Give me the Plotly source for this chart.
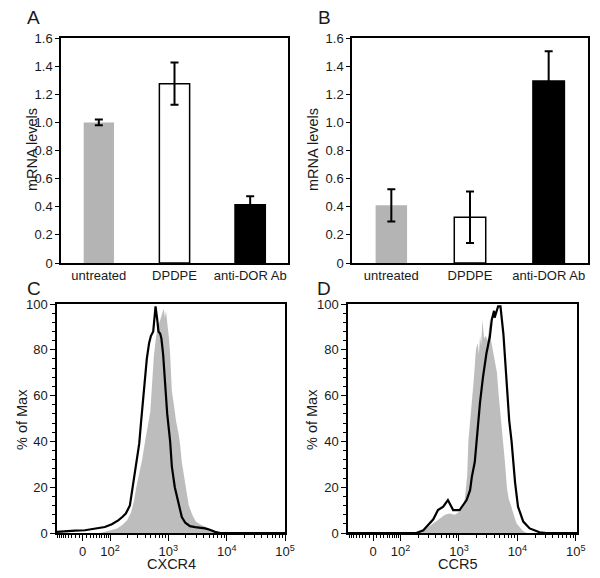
import math
import plotly.graph_objects as go

# ---------------- data ----------------
categories = ["untreated", "DPDPE", "anti-DOR Ab"]
bar_colors = ["#b4b4b4", "#ffffff", "#000000"]

a_values = [1.0, 1.275, 0.415]
a_errors = [0.02, 0.15, 0.06]

b_values = [0.41, 0.325, 1.295]
b_errors = [0.115, 0.183, 0.21]

bar_yticks = [0, 0.2, 0.4, 0.6, 0.8, 1.0, 1.2, 1.4, 1.6]
bar_yticktext = ["0", "0.2", "0.4", "0.6", "0.8", "1.0", "1.2", "1.4", "1.6"]

# flow histograms: x in biexponential display units (decades; 0 shown at ~1.53)
c_gray_x = [1.83, 2.00, 2.12, 2.21, 2.29, 2.36, 2.41, 2.45, 2.50, 2.55, 2.60, 2.65, 2.69,
            2.72, 2.75, 2.79, 2.82, 2.86, 2.89, 2.92, 2.94, 2.96, 2.98, 2.99, 3.01, 3.03,
            3.06, 3.10, 3.13, 3.17, 3.20, 3.23, 3.27, 3.30, 3.35, 3.41, 3.47, 3.54, 3.63,
            3.71, 3.80, 3.92]
c_gray_y = [0, 1, 2, 3.5, 5.5, 9, 14, 20, 26, 32, 40, 48, 53,
            65, 77, 86, 90, 93, 96, 98, 94, 97, 92, 88, 85, 78,
            62, 55, 49, 44, 39, 31, 24, 19, 12, 8, 5, 3.8, 2.8,
            1.8, 0.8, 0]

c_black_x = [1.09, 1.23, 1.40, 1.57, 1.74, 1.91, 2.03, 2.14, 2.21, 2.27, 2.34, 2.39, 2.45,
             2.50, 2.53, 2.57, 2.60, 2.63, 2.67, 2.70, 2.74, 2.76, 2.78, 2.81, 2.83, 2.86,
             2.88, 2.91, 2.94, 2.98, 3.03, 3.06, 3.11, 3.15, 3.20, 3.23, 3.29, 3.37, 3.46,
             3.54, 3.63, 3.71, 3.80, 3.89, 5.00]
c_black_y = [0.5, 0.8, 1, 1.2, 1.8, 2.6, 3.8, 5.5, 7, 8.5, 12, 20, 29,
             39, 48, 60, 68, 76, 83, 86, 88, 94, 99, 93, 88, 87,
             85, 78, 66, 52, 40, 29, 20, 16, 10, 7, 4.5, 3, 2.6,
             2.4, 2, 1.4, 0.5, 0, 0]

d_gray_x = [2.25, 2.33, 2.42, 2.50, 2.59, 2.67, 2.76, 2.84, 2.93, 3.02, 3.07, 3.10, 3.14,
            3.16, 3.19, 3.22, 3.25, 3.29, 3.32, 3.34, 3.36, 3.38, 3.40, 3.43, 3.46, 3.49,
            3.53, 3.55, 3.58, 3.61, 3.65, 3.68, 3.72, 3.75, 3.79, 3.82, 3.85, 3.89, 3.92,
            3.96, 3.99, 4.04, 4.09, 4.16]
d_gray_y = [0, 0.5, 1.5, 3, 5, 6.5, 8, 8.5, 8, 9.5, 12, 15, 25,
            40, 48, 56, 66, 80, 83, 78, 86, 82, 93, 85, 86, 84,
            93, 84, 80, 76, 70, 60, 50, 40, 30, 20, 15, 12, 9,
            6, 4, 2.5, 1, 0]

d_black_x = [1.10, 2.27, 2.39, 2.45, 2.56, 2.64, 2.73, 2.81, 2.90, 3.01, 3.07, 3.13, 3.19,
             3.22, 3.27, 3.30, 3.33, 3.36, 3.41, 3.47, 3.53, 3.56, 3.60, 3.61, 3.67, 3.71,
             3.76, 3.80, 3.84, 3.86, 3.90, 3.96, 4.01, 4.10, 4.21, 4.38, 4.50, 5.02]
d_black_y = [0, 0, 1.2, 3, 6, 10, 11.5, 14.4, 10, 10, 12, 14.4, 18.7,
             24.5, 31, 40, 49, 57, 68, 78.5, 86, 93, 97, 94, 99, 99,
             87, 72.6, 58, 49, 40, 22, 11.5, 5, 2, 0.3, 0, 0]

flow_xticks = [1.53, 2, 3, 4, 5]
flow_xticktext = ["0", "10<sup>2</sup>", "10<sup>3</sup>", "10<sup>4</sup>", "10<sup>5</sup>"]
flow_yticks = [0, 20, 40, 60, 80, 100]

# ---------------- figure ----------------
# the page body adds an 8px margin, so the figure is 16px smaller than the window
PAGE_W, PAGE_H, BODY = 600, 578, 8
W, H = PAGE_W - 2 * BODY, PAGE_H - 2 * BODY
FONT = "Liberation Sans, Arial, Helvetica, sans-serif"
INK = "#1a1a1a"


def px(x):
    return (x - BODY) / W


def py(y):
    return 1 - (y - BODY) / H


fig = go.Figure()

# bar panels
for vals, errs, xa, ya in [(a_values, a_errors, "x", "y"), (b_values, b_errors, "x2", "y2")]:
    fig.add_trace(go.Bar(
        x=categories, y=vals, xaxis=xa, yaxis=ya, width=0.4,
        marker=dict(color=bar_colors,
                    line=dict(color=["rgba(0,0,0,0)", "#000000", "#000000"], width=1.5)),
        error_y=dict(type="data", array=errs, visible=True, color="#000000",
                     thickness=2, width=4),
        showlegend=False,
    ))

# flow panels
for gx, gy, bx, by, xa, ya in [(c_gray_x, c_gray_y, c_black_x, c_black_y, "x3", "y3"),
                               (d_gray_x, d_gray_y, d_black_x, d_black_y, "x4", "y4")]:
    fig.add_trace(go.Scatter(x=gx, y=gy, xaxis=xa, yaxis=ya, mode="lines",
                             line=dict(width=0, color="#bdbdbd"), fill="tozeroy",
                             fillcolor="#bdbdbd", showlegend=False))
    fig.add_trace(go.Scatter(x=bx, y=by, xaxis=xa, yaxis=ya, mode="lines",
                             line=dict(width=2.2, color="#000000"), showlegend=False))

tickfont = dict(family=FONT, size=13, color=INK)

common = dict(showline=True, linecolor="#000", linewidth=1.5, mirror=True,
              showgrid=False, zeroline=False, tickfont=tickfont, automargin=False)

bar_y = dict(range=[0, 1.6], tickmode="array", tickvals=bar_yticks, ticktext=bar_yticktext,
             ticks="outside", ticklen=4, tickwidth=1.2, tickcolor="#000", **common)
bar_x = dict(range=[-0.5, 2.5], ticks="", **common)

near_zero_frac = [0.13, 0.27, 0.39, 0.51, 0.61, 0.70, 0.78, 0.86, 0.93]


def flow_minor(lo):
    zero = flow_xticks[0]
    gap = 2 - zero
    vals = [zero + f * gap for f in near_zero_frac]
    vals += [zero - f * gap for f in near_zero_frac if zero - f * gap > lo]
    for n in (2, 3, 4):
        vals += [n + math.log10(k) for k in range(2, 10)]
    return vals


def flow_x(lo, hi):
    return dict(range=[lo, hi], tickmode="array", tickvals=flow_xticks, ticktext=flow_xticktext,
                ticks="outside", ticklen=6, tickwidth=1.2, tickcolor="#000",
                minor=dict(tickmode="array", tickvals=flow_minor(lo), ticks="outside",
                           ticklen=3, tickwidth=1, tickcolor="#000"),
                **common)


flow_y = dict(range=[0, 100], tickmode="array", tickvals=flow_yticks, ticks="outside", ticklen=5,
              tickwidth=1.2, tickcolor="#000",
              minor=dict(dtick=4, ticks="outside", ticklen=3, tickwidth=1, tickcolor="#000"),
              **common)

fig.update_layout(
    template="none",
    width=W, height=H, margin=dict(l=0, r=0, t=0, b=0, pad=0),
    paper_bgcolor="white", plot_bgcolor="white",
    font=dict(family=FONT, color=INK),
    showlegend=False,
    xaxis=dict(domain=[px(61), px(288)], anchor="y", **bar_x),
    yaxis=dict(domain=[py(263), py(38)], anchor="x", **bar_y),
    xaxis2=dict(domain=[px(352), px(588)], anchor="y2", **bar_x),
    yaxis2=dict(domain=[py(263), py(38)], anchor="x2", **bar_y),
    xaxis3=dict(domain=[px(57), px(285)], anchor="y3", **flow_x(1.09, 5.0)),
    yaxis3=dict(domain=[py(533), py(304)], anchor="x3", **flow_y),
    xaxis4=dict(domain=[px(348), px(577)], anchor="y4", **flow_x(1.10, 5.02)),
    yaxis4=dict(domain=[py(533), py(304)], anchor="x4", **flow_y),
)

ann = []
title_font = dict(family=FONT, size=14.5, color=INK)
letter_font = dict(family=FONT, size=19, color=INK)
for txt, x, y in [("A", 25, 17), ("B", 316, 17), ("C", 25, 288), ("D", 315, 288)]:
    ann.append(dict(text=txt, x=px(x), y=py(y), xref="paper", yref="paper",
                    xanchor="left", yanchor="middle", showarrow=False, font=letter_font))
for txt, x, y in [("mRNA levels", 32, 150), ("mRNA levels", 313, 150),
                  ("% of Max", 22, 420), ("% of Max", 312, 420)]:
    ann.append(dict(text=txt, x=px(x), y=py(y), xref="paper", yref="paper",
                    xanchor="center", yanchor="middle", textangle=-90,
                    showarrow=False, font=title_font))
for txt, x, y in [("CXCR4", 171, 564), ("CCR5", 457, 564)]:
    ann.append(dict(text=txt, x=px(x), y=py(y), xref="paper", yref="paper",
                    xanchor="center", yanchor="middle", showarrow=False, font=title_font))
fig.update_layout(annotations=ann)

fig.write_html("out.html")
